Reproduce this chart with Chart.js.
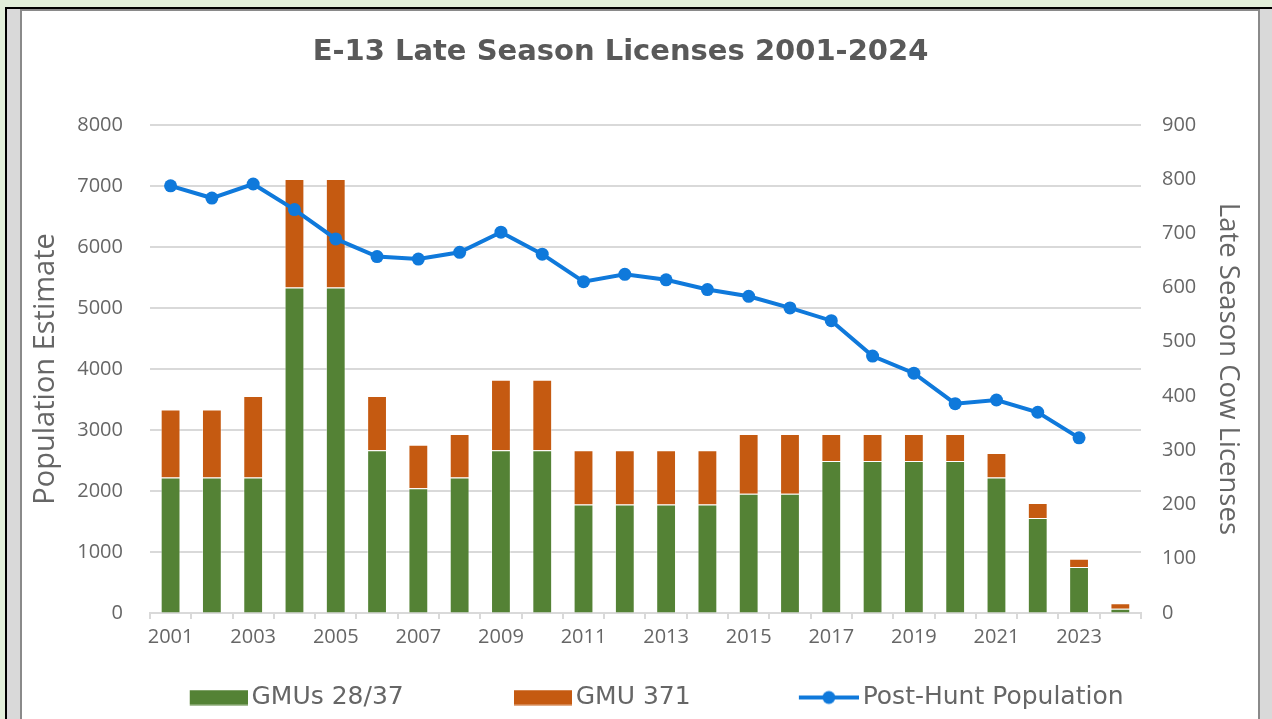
<!DOCTYPE html>
<html>
<head>
<meta charset="utf-8">
<script src="https://cdn.jsdelivr.net/npm/chart.js@4"></script>
<style>
html,body{margin:0;padding:0;width:1272px;height:719px;overflow:hidden;background:#e2efda;}
#outer{position:absolute;left:5px;top:7px;width:1267px;height:712px;border-left:2px solid #000;border-top:2px solid #000;background:#d9d9d9;box-sizing:border-box;}
#inner{position:absolute;left:20px;top:9px;width:1240px;height:720px;background:#fff;border:2px solid #8a8a8a;border-bottom:none;box-sizing:border-box;}
#wrap{position:absolute;left:22px;top:11px;width:1236px;height:709px;}
canvas{display:block;}
</style>
</head>
<body>
<div id="outer"></div>
<div id="inner"></div>
<div id="wrap"><canvas id="c" width="1236" height="709"></canvas></div>
<script>
// ---- data ----
const years = ['2001','2002','2003','2004','2005','2006','2007','2008','2009','2010','2011','2012',
               '2013','2014','2015','2016','2017','2018','2019','2020','2021','2022','2023','2024'];
const gmu2837 = [250,250,250,600,600,300,230,250,300,300,200,200,200,200,220,220,280,280,280,280,250,175,85,8];
const gmu371  = [125,125,150,200,200,100,80,80,130,130,100,100,100,100,110,110,50,50,50,50,45,28,15,10];
const population = [7000,6800,7030,6610,6130,5840,5800,5910,6240,5880,5430,5550,5460,5300,5190,5000,4790,4210,3930,3430,3490,3290,2870,null];
const seriesNames = ['GMUs 28/37','GMU 371','Post-Hunt Population'];
const chartTitle = 'E-13 Late Season Licenses 2001-2024';
const leftTitle = 'Population Estimate';
const rightTitle = 'Late Season Cow Licenses';

// ---- styles ----
const GREEN = '#548235', ORANGE = '#c55a11', BLUE = '#0f79db';
const GRID = '#d9d9d9', TICK = '#666666', TXT = '#595959';
const SLOT = 121.5, LPAD = 38;

function makeIcon(kind, color){
  const cw = 139, ch = 16;
  const c = document.createElement('canvas'); c.width = cw; c.height = ch;
  const g = c.getContext('2d');
  if (kind === 'box') {
    g.fillStyle = color; g.fillRect(cw - 58, 0.5, 58, 15);
  } else {
    g.strokeStyle = color; g.lineWidth = 4;
    g.beginPath(); g.moveTo(cw - 60, 8); g.lineTo(cw, 8); g.stroke();
    g.fillStyle = color; g.beginPath(); g.arc(cw - 30, 8, 6.5, 0, Math.PI * 2); g.fill();
  }
  return c;
}
const icons = [makeIcon('box', GREEN), makeIcon('box', ORANGE), makeIcon('line', BLUE)];
const plain = (v) => String(v);

new Chart(document.getElementById('c'), {
  type: 'bar',
  data: {
    labels: years,
    datasets: [
      { type: 'line', label: seriesNames[2], data: population, yAxisID: 'y', order: 0,
        borderColor: BLUE, backgroundColor: BLUE, borderWidth: 4, tension: 0,
        pointRadius: 6.5, pointHoverRadius: 6.5, pointBorderWidth: 0, pointBackgroundColor: BLUE },
      { type: 'bar', label: seriesNames[0], data: gmu2837, yAxisID: 'y1', stack: 'lic', order: 1,
        backgroundColor: GREEN, borderColor: 'rgba(255,255,255,0.45)', borderWidth: 1,
        barPercentage: 0.48, categoryPercentage: 1 },
      { type: 'bar', label: seriesNames[1], data: gmu371, yAxisID: 'y1', stack: 'lic', order: 1,
        backgroundColor: ORANGE, borderColor: 'rgba(255,255,255,0.45)', borderWidth: 1,
        barPercentage: 0.48, categoryPercentage: 1 }
    ]
  },
  options: {
    responsive: false,
    devicePixelRatio: 1,
    animation: false,
    layout: { padding: { left: 8, right: 47, top: 0, bottom: 0 } },
    plugins: {
      title: { display: true, text: chartTitle, color: TXT,
               font: { family: 'DejaVu Sans', size: 29, weight: 'bold' },
               padding: { top: 24, bottom: 55 } },
      legend: {
        position: 'bottom',
        title: { display: true, text: ' ', font: { size: 10 }, padding: { top: -10, bottom: -10 } },
        labels: {
          usePointStyle: true, pointStyleWidth: SLOT, padding: LPAD,
          color: TXT, font: { family: 'DejaVu Sans', size: 25 },
          generateLabels: () => [
            { text: seriesNames[0], pointStyle: icons[0], fillStyle: GREEN, strokeStyle: GREEN, lineWidth: 0, hidden: false, datasetIndex: 1 },
            { text: seriesNames[1], pointStyle: icons[1], fillStyle: ORANGE, strokeStyle: ORANGE, lineWidth: 0, hidden: false, datasetIndex: 2 },
            { text: seriesNames[2], pointStyle: icons[2], fillStyle: BLUE, strokeStyle: BLUE, lineWidth: 0, hidden: false, datasetIndex: 0 }
          ]
        }
      },
      tooltip: { enabled: false }
    },
    scales: {
      x: {
        stacked: true, offset: true,
        grid: { display: true, drawOnChartArea: false, offset: true, drawTicks: true, tickLength: 6, color: GRID, lineWidth: 2 },
        border: { display: true, color: GRID, width: 2 },
        ticks: { autoSkip: false, maxRotation: 0, minRotation: 0, padding: 6, color: TICK,
                 font: { family: 'Open Sans', size: 20 },
                 callback: function (v, i) { return i % 2 === 0 ? this.getLabelForValue(v) : ''; } }
      },
      y: {
        position: 'left', min: 0, max: 8000,
        ticks: { stepSize: 1000, padding: 27, color: TICK, font: { family: 'Open Sans', size: 20 }, callback: plain },
        grid: { color: GRID, lineWidth: 2, drawTicks: false },
        border: { display: false },
        title: { display: true, text: leftTitle, color: TICK, font: { family: 'Open Sans', size: 29 },
                 padding: { top: -1.4, bottom: -13.2 } }
      },
      y1: {
        position: 'right', stacked: true, min: 0, max: 900,
        ticks: { stepSize: 100, padding: 21, color: TICK, font: { family: 'Open Sans', size: 20 }, callback: plain },
        grid: { drawOnChartArea: false, drawTicks: false },
        border: { display: false },
        title: { display: true, text: rightTitle, color: TICK, font: { family: 'Open Sans', size: 27.5 },
                 padding: { top: -33, bottom: -6.3 } }
      }
    }
  }
});
</script>
</body>
</html>
